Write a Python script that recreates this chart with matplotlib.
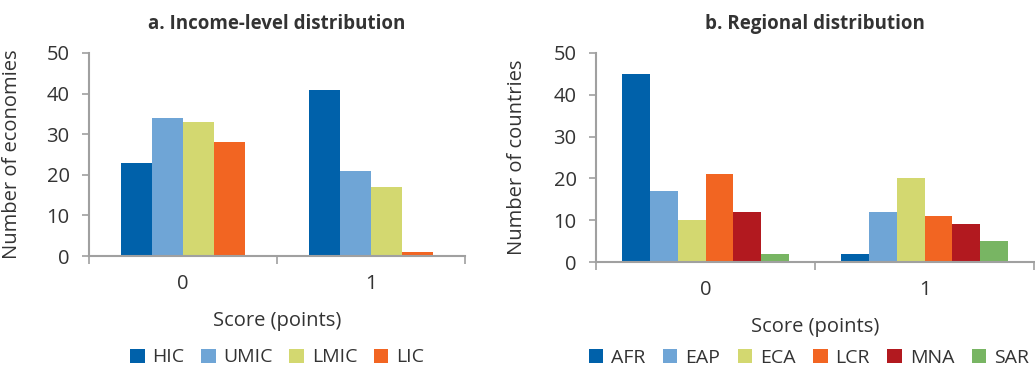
import matplotlib
matplotlib.use("Agg")
import matplotlib.pyplot as plt
import numpy as np

plt.rcParams['font.family'] = ['Open Sans', 'DejaVu Sans']

# Données
scores = ["0", "1"]
income_groups = ["HIC", "UMIC", "LMIC", "LIC"]
income_values = [[23, 41], [34, 21], [33, 17], [28, 1]]
regions = ["AFR", "EAP", "ECA", "LCR", "MNA", "SAR"]
region_values = [[45, 2], [17, 12], [10, 20], [21, 11], [12, 9], [2, 5]]

income_colors = ["#0061AA", "#6FA5D6", "#D3D870", "#F26522"]
region_colors = ["#0061AA", "#6FA5D6", "#D3D870", "#F26522", "#B2191F", "#78B563"]

txt = "#333333"
grey = "#A0A0A0"
fs = 14.5

fig = plt.figure(figsize=(10.35, 3.68), dpi=100)
ax1 = fig.add_axes([89/1035, 112/368, 376/1035, 203/368])
ax2 = fig.add_axes([596/1035, 106/368, 438/1035, 209/368])


def panel(ax, groups, values, colors, group_w, title, ylabel, ylab_x, leg_x, leg_y, colspace):
    x = np.arange(len(scores))
    n = len(groups)
    w = group_w / n
    for i in range(n):
        ax.bar(x - group_w/2 + w*(i + 0.5), values[i], width=w, color=colors[i],
               label=groups[i])
    ax.set_xlim(-0.5, 1.5)
    ax.set_ylim(0, 50)
    ax.set_yticks(range(0, 51, 10))
    ax.set_xticks([-0.5, 0.5, 1.5])
    ax.set_xticklabels([])
    ax.set_xticks(x, minor=True)
    ax.set_xticklabels(scores, minor=True)
    ax.tick_params(axis='x', which='minor', length=0, pad=13, labelsize=fs, labelcolor=txt)
    ax.tick_params(axis='x', which='major', length=6, width=1.2, color=grey)
    ax.tick_params(axis='y', length=5, width=1.2, color=grey, labelsize=fs,
                   labelcolor=txt, pad=9)
    for s in ["top", "right"]:
        ax.spines[s].set_visible(False)
    for s in ["left", "bottom"]:
        ax.spines[s].set_color(grey)
        ax.spines[s].set_linewidth(1.5)
    ax.set_title(title, fontsize=13.5, fontweight="bold", color=txt, pad=17)
    ax.set_ylabel(ylabel, fontsize=fs, color=txt)
    ax.yaxis.set_label_coords(ylab_x, 0.5)
    ax.set_xlabel("Score (points)", fontsize=fs, color=txt, labelpad=12)
    ax.legend(loc="center", bbox_to_anchor=(leg_x, leg_y), ncol=n, frameon=False,
              fontsize=14, handlelength=0.75, handleheight=0.75, handletextpad=0.4,
              columnspacing=colspace, labelcolor=txt, borderaxespad=0)


panel(ax1, income_groups, income_values, income_colors, 0.655,
      "a. Income-level distribution", "Number of economies", -0.178, 0.5, -0.5, 0.85)
panel(ax2, regions, region_values, region_colors, 0.76,
      "b. Regional distribution", "Number of countries", -0.158, 0.486, -0.46, 0.9)

fig.savefig("out.png", dpi=100)
